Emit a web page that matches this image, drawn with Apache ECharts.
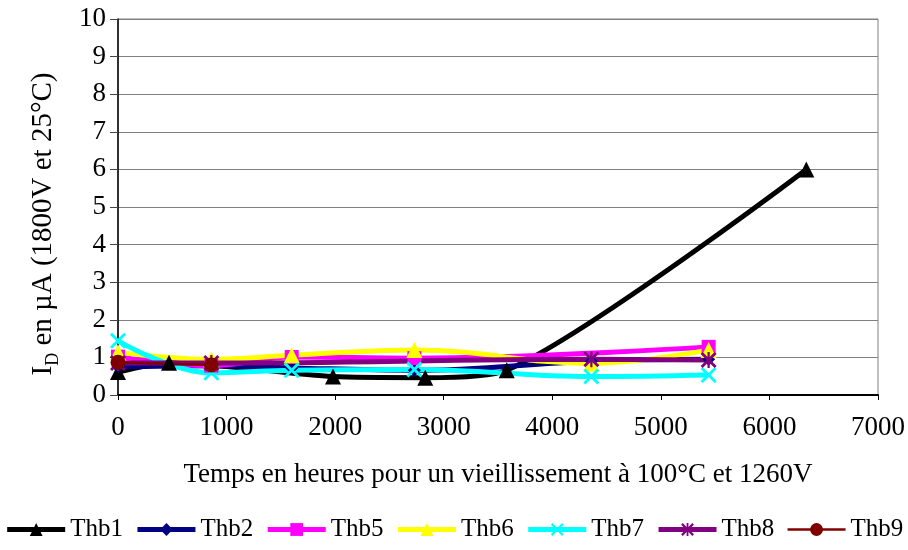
<!DOCTYPE html>
<html>
<head>
<meta charset="utf-8">
<script src="https://cdn.jsdelivr.net/npm/echarts@6/dist/echarts.min.js"></script>
<style>html,body{margin:0;padding:0;background:#fff;}#c{width:908px;height:550px;}</style>
</head>
<body>
<div id="c"></div>
<script>
// ---- data ----
const xTicks = [0, 1000, 2000, 3000, 4000, 5000, 6000, 7000];
const yTicks = [0, 1, 2, 3, 4, 5, 6, 7, 8, 9, 10];
const seriesNames = ['Thb1', 'Thb2', 'Thb5', 'Thb6', 'Thb7', 'Thb8', 'Thb9'];

const thb1Time = [0, 470, 1980, 2830, 3580, 6340];
const thb1 = [0.61, 0.86, 0.49, 0.46, 0.66, 6.0];

const commonTime = [0, 860, 1600, 2730, 4360, 5440];
const thb2 = [0.75, 0.78, 0.72, 0.66, 0.90, 0.95];
const thb6 = [1.14, 0.95, 1.06, 1.20, 0.84, 1.20];
const thb7 = [1.44, 0.59, 0.66, 0.68, 0.49, 0.53];

const thb5Time = [0, 860, 1600, 2730, 5440];
const thb5 = [1.02, 0.78, 1.01, 0.98, 1.28];

const thb8Time = [0, 860, 4360, 5440];
const thb8 = [0.85, 0.85, 0.95, 0.93];

const thb9Time = [0, 860];
const thb9 = [0.87, 0.80];

// ---- build ----
const FONT = 'Liberation Serif';
const zip = (xs, ys) => xs.map((x, i) => [x, ys[i]]);
const crossPath = 'path://M0,2.5 L2.5,0 L10,7.5 L17.5,0 L20,2.5 L12.5,10 L20,17.5 L17.5,20 L10,12.5 L2.5,20 L0,17.5 L7.5,10 Z';
const starPath = 'path://M0,2.5 L2.5,0 L10,7.5 L17.5,0 L20,2.5 L12.5,10 L20,17.5 L17.5,20 L10,12.5 L2.5,20 L0,17.5 L7.5,10 Z M8.6,0 L11.4,0 L11.4,20 L8.6,20 Z';

const defs = [
  {name: 'Thb1', data: zip(thb1Time, thb1), color: '#000000', symbol: 'triangle', size: 16, width: 5, smooth: 0.25},
  {name: 'Thb2', data: zip(commonTime, thb2), color: '#000080', symbol: 'diamond', size: 13, width: 5, smooth: 0.4},
  {name: 'Thb5', data: zip(thb5Time, thb5), color: '#FF00FF', symbol: 'rect', size: 14, width: 5, smooth: 0.4},
  {name: 'Thb6', data: zip(commonTime, thb6), color: '#FFFF00', symbol: 'triangle', size: 16, width: 5, smooth: 0.4},
  {name: 'Thb7', data: zip(commonTime, thb7), color: '#00FFFF', symbol: crossPath, size: 16, width: 5, smooth: 0.4},
  {name: 'Thb8', data: zip(thb8Time, thb8), color: '#800080', symbol: starPath, size: 16, width: 5, smooth: 0.4},
  {name: 'Thb9', data: zip(thb9Time, thb9), color: '#800000', symbol: 'circle', size: 15, width: 2.5, smooth: 0.4}
];

const series = defs.map(d => ({
  name: d.name,
  type: 'line',
  data: d.data,
  smooth: d.smooth,
  symbol: d.symbol,
  symbolSize: d.size,
  showAllSymbol: true,
  color: d.color,
  lineStyle: {color: d.color, width: d.width},
  itemStyle: {color: d.color, borderWidth: 0, opacity: 1},
  emphasis: {disabled: true},
  animation: false
}));

const chart = echarts.init(document.getElementById('c'), null, {renderer: 'canvas'});
chart.setOption({
  backgroundColor: '#ffffff',
  animation: false,
  textStyle: {fontFamily: FONT},
  grid: {left: 118, right: 29, top: 19, bottom: 155, show: true, borderColor: '#808080', borderWidth: 1, backgroundColor: 'transparent'},
  legend: {
    data: seriesNames,
    bottom: 3,
    left: 'center',
    itemWidth: 58,
    itemHeight: 16,
    itemGap: 12,
    lineStyle: {width: 'inherit'},
    formatter: name => '{t|' + name + '}',
    textStyle: {
      fontFamily: FONT, fontSize: 25, color: '#000',
      rich: {t: {fontFamily: FONT, fontSize: 25, color: '#000', fontWeight: 'normal'}}
    }
  },
  xAxis: {
    type: 'value',
    min: xTicks[0],
    max: xTicks[xTicks.length - 1],
    interval: xTicks[1] - xTicks[0],
    name: 'Temps en heures pour un vieillissement à 100°C et 1260V',
    nameLocation: 'middle',
    nameGap: 66,
    nameTextStyle: {fontFamily: FONT, fontSize: 27, color: '#000'},
    axisLine: {show: true, lineStyle: {color: '#000', width: 2}},
    axisTick: {show: true, length: 5, lineStyle: {color: '#000'}},
    axisLabel: {fontFamily: FONT, fontSize: 27, color: '#000', margin: 19, formatter: v => String(v)},
    splitLine: {show: false}
  },
  yAxis: {
    type: 'value',
    min: yTicks[0],
    max: yTicks[yTicks.length - 1],
    interval: yTicks[1] - yTicks[0],
    name: '{a|I}{s|D}{a| en µA (1800V et 25°C)}',
    nameLocation: 'middle',
    nameGap: 60,
    nameRotate: 90,
    nameTextStyle: {
      fontFamily: FONT, color: '#000',
      padding: [0, 34, 0, 0],
      rich: {
        a: {fontFamily: FONT, fontSize: 29, color: '#000', lineHeight: 32, verticalAlign: 'bottom'},
        s: {fontFamily: FONT, fontSize: 18, color: '#000', lineHeight: 18, verticalAlign: 'bottom', padding: [0, 0, -4, 0]}
      }
    },
    axisLine: {show: true, lineStyle: {color: '#000', width: 1.5}},
    axisTick: {show: true, length: 8, lineStyle: {color: '#444'}},
    axisLabel: {fontFamily: FONT, fontSize: 27, color: '#000', margin: 12},
    splitLine: {show: true, lineStyle: {color: '#808080', width: 1}}
  },
  series: series
});
</script>
</body>
</html>
